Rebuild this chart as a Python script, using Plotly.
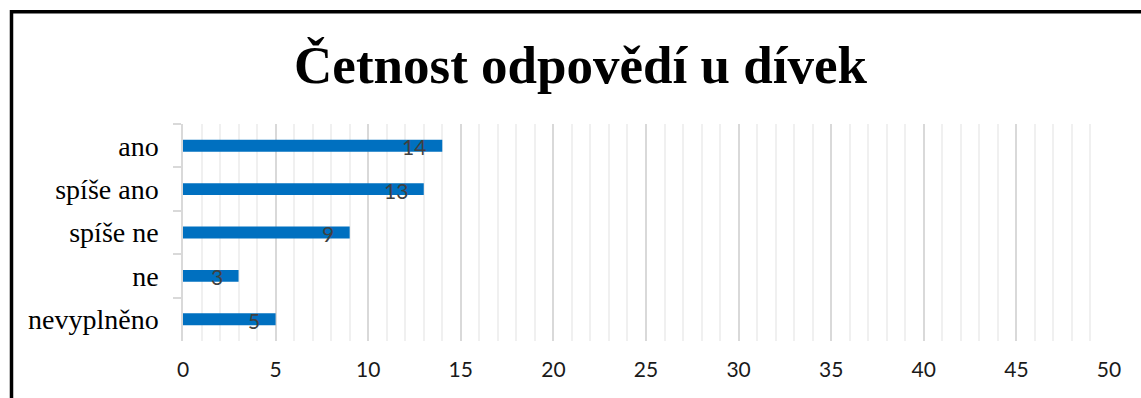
import plotly.graph_objects as go

# Survey answers and how many girls picked each one
categories = ["ano", "spíše ano", "spíše ne", "ne", "nevyplněno"]
counts = [14, 13, 9, 3, 5]
x_ticks = [0, 5, 10, 15, 20, 25, 30, 35, 40, 45, 50]

title_text = "Četnost odpovědí u dívek"

W, H = 1141, 398
M_L, M_R, M_T, M_B = 183, 32, 124, 57
plot_w = W - M_L - M_R
plot_h = H - M_T - M_B

fig = go.Figure()
fig.add_trace(go.Bar(
    x=counts,
    y=categories,
    orientation="h",
    width=0.275,
    marker=dict(color="#0070C0", line=dict(width=0)),
    hoverinfo="x+y",
))

# value labels sitting just inside the end of each bar
for cat, val in zip(categories, counts):
    fig.add_annotation(
        x=val, y=cat, xref="x", yref="y",
        text=str(val), showarrow=False,
        xanchor="right", yanchor="middle",
        xshift=-14, yshift=-1,
        font=dict(family="Lato", size=21, color="#404040"),
    )

# chart frame: left and top edges of the surrounding box
fx = (11.5 - M_L) / plot_w
fy = 1 + (M_T - 11.7) / plot_h
fig.add_shape(
    type="path", xref="paper", yref="paper",
    path=f"M {fx},-0.4 L {fx},{fy} L 1.2,{fy}",
    line=dict(color="#000000", width=3.5),
    layer="above",
)

fig.update_layout(
    width=W, height=H,
    margin=dict(l=M_L, r=M_R, t=M_T, b=M_B, pad=0),
    paper_bgcolor="#ffffff",
    plot_bgcolor="#ffffff",
    showlegend=False,
    title=dict(
        text=f"<b>{title_text}</b>",
        x=580.5 / W, xref="container", xanchor="center",
        y=1 - 64 / H, yref="container", yanchor="middle",
        font=dict(family="Liberation Serif", size=53, color="#000000"),
    ),
    xaxis=dict(
        range=[0, 50],
        tickmode="array", tickvals=x_ticks, ticktext=[str(t) for t in x_ticks],
        showgrid=True, gridcolor="#d9d9d9", gridwidth=1.5,
        minor=dict(dtick=1, showgrid=True, gridcolor="#f0f0f0", gridwidth=1.5),
        zeroline=False, showline=False, ticks="",
        ticklabelstandoff=14,
        tickfont=dict(family="Lato", size=21, color="#1a1a1a"),
        fixedrange=True,
    ),
    yaxis=dict(
        autorange="reversed",
        showgrid=False, zeroline=False,
        showline=True, linecolor="#d9d9d9", linewidth=1.5,
        ticks="outside", tickson="boundaries", ticklen=8,
        tickcolor="#d9d9d9", tickwidth=1.5,
        ticklabelstandoff=17,
        tickfont=dict(family="Liberation Serif", size=28, color="#000000"),
        fixedrange=True,
    ),
)

fig.write_html("out.html")
